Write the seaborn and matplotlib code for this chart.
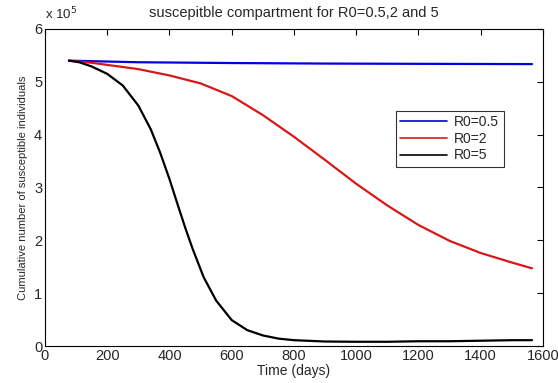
import numpy as np
import pandas as pd
import matplotlib
matplotlib.use("Agg")
import matplotlib.pyplot as plt
import seaborn as sns

# Data (y in units of 1e5 individuals)
t_blue = [77, 300, 600, 900, 1200, 1565]
s_blue = [5.40, 5.37, 5.355, 5.345, 5.34, 5.335]

t_red = [77, 150, 200, 300, 400, 500, 600, 700, 800, 900, 1000, 1100, 1200, 1300, 1400, 1500, 1565]
s_red = [5.40, 5.36, 5.32, 5.24, 5.12, 4.97, 4.73, 4.37, 3.96, 3.52, 3.07, 2.66, 2.29, 1.99, 1.76, 1.58, 1.47]

t_black = [77, 110, 150, 200, 250, 300, 340, 370, 400, 425, 450, 475, 510, 550, 600, 650,
           700, 750, 800, 900, 1000, 1100, 1200, 1300, 1400, 1500, 1565]
s_black = [5.40, 5.37, 5.29, 5.15, 4.93, 4.55, 4.10, 3.66, 3.16, 2.70, 2.25, 1.83, 1.30, 0.86,
           0.49, 0.30, 0.20, 0.14, 0.11, 0.085, 0.08, 0.08, 0.09, 0.09, 0.10, 0.11, 0.11]

labels = ["R0=0.5", "R0=2", "R0=5"]
colors = ["#0000e0", "#d81818", "#000000"]
x_ticks = [0, 200, 400, 600, 800, 1000, 1200, 1400, 1600]
y_ticks = [0, 1, 2, 3, 4, 5, 6]

frames = []
for lab, t, s in zip(labels, [t_blue, t_red, t_black], [s_blue, s_red, s_black]):
    frames.append(pd.DataFrame({"t": t, "S": np.array(s) * 1e5, "R0": lab}))
df = pd.concat(frames, ignore_index=True)

sns.set_style("white")
plt.rcParams["font.family"] = ["Liberation Sans", "DejaVu Sans"]
plt.rcParams["xtick.direction"] = "in"
plt.rcParams["ytick.direction"] = "in"
plt.rcParams["lines.solid_joinstyle"] = "round"

fig = plt.figure(figsize=(5.58, 3.83), dpi=100)
ax = fig.add_axes([0.0806, 0.0966, 0.8924, 0.8278])

sns.lineplot(data=df, x="t", y="S", hue="R0", palette=dict(zip(labels, colors)),
             linewidth=1.6, ax=ax, legend=True, sort=True, estimator=None)

ax.set_xlim(0, 1600)
ax.set_ylim(0, 6e5)
ax.set_xticks(x_ticks)
ax.set_xticklabels([str(v) for v in x_ticks], fontsize=10.5)
ax.set_yticks([v * 1e5 for v in y_ticks])
ax.set_yticklabels([str(v) for v in y_ticks], fontsize=10.5)
ax.tick_params(top=True, right=True, length=4, width=0.8, color="black", pad=2)
for sp in ax.spines.values():
    sp.set_color("black")
    sp.set_linewidth(0.8)

ax.text(0.0, 1.022, "x 10$^5$", transform=ax.transAxes, fontsize=9.5, ha="left", va="bottom")
ax.set_title("suscepitble compartment for R0=0.5,2 and 5", fontsize=10.5, pad=8.5)
ax.set_xlabel("Time (days)", fontsize=10, labelpad=1)
ax.set_ylabel("Cumulative number of susceptible individuals", fontsize=8, labelpad=4)

leg = ax.legend(loc="upper left", bbox_to_anchor=(0.705, 0.742), fontsize=10, frameon=True,
                fancybox=False, edgecolor="black", handlelength=3.4, borderpad=0.3,
                labelspacing=0.2, handletextpad=0.5, borderaxespad=0)
leg.get_frame().set_linewidth(0.8)
for line in leg.get_lines():
    line.set_linewidth(1.2)

fig.savefig("out.png", dpi=100)
